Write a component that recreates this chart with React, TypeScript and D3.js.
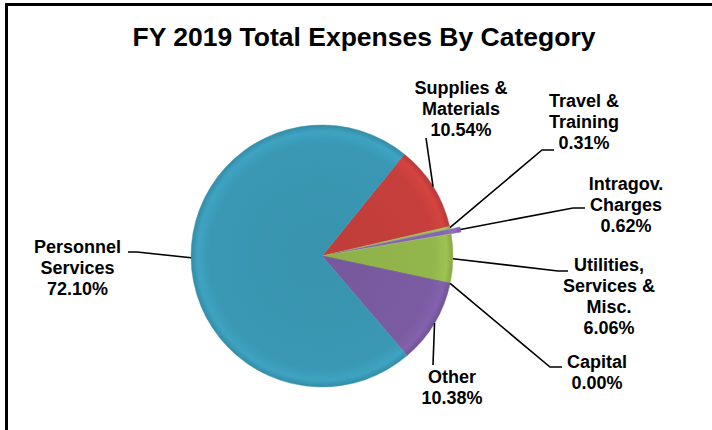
import React from "react";
import * as d3 from "d3";

const categories = [
  "Supplies & Materials",
  "Travel & Training",
  "Intragov. Charges",
  "Utilities, Services & Misc.",
  "Capital",
  "Other",
  "Personnel Services",
];
const values = [10.54, 0.31, 0.62, 6.06, 0.0, 10.38, 72.1];
const labelLines = [
  ["Supplies &", "Materials", "10.54%"],
  ["Travel &", "Training", "0.31%"],
  ["Intragov.", "Charges", "0.62%"],
  ["Utilities,", "Services &", "Misc.", "6.06%"],
  ["Capital", "0.00%"],
  ["Other", "10.38%"],
  ["Personnel", "Services", "72.10%"],
];
const colors = ["#C63F3C", "#9DBE5A", "#8566B0", "#93B64C", "#7E5EA3", "#7B5BA2", "#3A98B4"];
const title = "FY 2019 Total Expenses By Category";

// layout: label anchor (center x, first baseline), leader bend + end points
const labelLayout = [
  { x: 461, y: 94, pts: [[426, 138]] },
  { x: 584, y: 107, pts: [[542, 150], [554, 150]] },
  { x: 626, y: 190, pts: [[573, 208], [585, 208]] },
  { x: 609, y: 271, pts: [[558, 271], [568, 271]] },
  { x: 597, y: 368, pts: [[550, 367], [562, 367]] },
  { x: 452, y: 383, pts: [[433, 365]] },
  { x: 77.5, y: 253, pts: [[137, 252], [128, 252]] },
];

const W = 712;
const H = 430;
const cx = 322;
const cy = 256;
const R = 131;
const explodeIdx = 2;
const explodeDist = 10;
const startDeg = 39;

export default function App() {
  const pie = d3
    .pie<number>()
    .sort(null)
    .value((d) => d)
    .startAngle((startDeg * Math.PI) / 180)
    .endAngle((startDeg * Math.PI) / 180 + 2 * Math.PI);
  const arcs = pie(values);
  const arc = d3.arc<d3.PieArcDatum<number>>().innerRadius(0).outerRadius(R);

  const font = "'Liberation Sans', Arial, sans-serif";

  return (
    <svg
      width={W}
      height={H}
      style={{ position: "absolute", left: 0, top: 0, background: "#fff" }}
      fontFamily={font}
    >
      <defs>
        {colors.map((c, i) => {
          const base = d3.color(c)!;
          return (
            <radialGradient
              key={i}
              id={`g${i}`}
              gradientUnits="userSpaceOnUse"
              cx={0}
              cy={0}
              r={R}
            >
              <stop offset="0" stopColor={base.darker(0.1).toString()} />
              <stop offset="0.86" stopColor={c} />
              <stop offset="0.95" stopColor={base.brighter(0.2).toString()} />
              <stop offset="1" stopColor={base.darker(0.25).toString()} />
            </radialGradient>
          );
        })}
      </defs>
      <rect x={6.5} y={4.5} width={W + 20} height={H + 20} fill="none" stroke="#000" strokeWidth={3} />
      <text x={364} y={46} textAnchor="middle" fontSize={26.5} fontWeight="bold" fill="#000">
        {title}
      </text>
      <g transform={`translate(${cx},${cy})`}>
        {arcs.map((a, i) => {
          const mid = (a.startAngle + a.endAngle) / 2;
          const off = i === explodeIdx ? explodeDist : 0;
          const dx = Math.sin(mid) * off;
          const dy = -Math.cos(mid) * off;
          return (
            <g key={i} transform={`translate(${dx},${dy})`}>
              <path d={arc(a) || ""} fill={`url(#g${i})`} stroke={colors[i]} strokeWidth={0.5} />
            </g>
          );
        })}
      </g>
      {arcs.map((a, i) => {
        const mid = (a.startAngle + a.endAngle) / 2;
        const r = R + (i === explodeIdx ? explodeDist : 0);
        const sx = cx + Math.sin(mid) * r;
        const sy = cy - Math.cos(mid) * r;
        const L = labelLayout[i];
        const pts = [[sx, sy], ...L.pts];
        const line = d3.line()(pts as [number, number][]) || "";
        return (
          <g key={`l${i}`}>
            <path d={line} fill="none" stroke="#000" strokeWidth={1.6} />
            <text x={L.x} y={L.y} textAnchor="middle" fontSize={18} fontWeight="bold" fill="#000">
              {labelLines[i].map((t, j) => (
                <tspan key={j} x={L.x} dy={j === 0 ? 0 : 21}>
                  {t}
                </tspan>
              ))}
            </text>
          </g>
        );
      })}
    </svg>
  );
}
